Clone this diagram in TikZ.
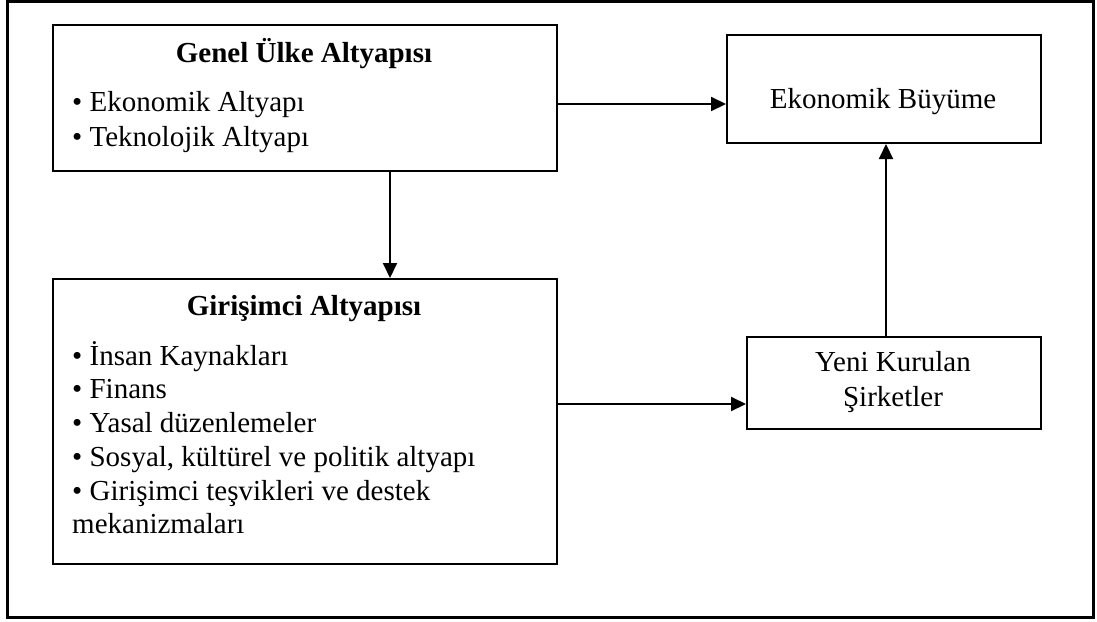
\documentclass[tikz,border=0pt]{standalone}
\usepackage{fontspec}
\setmainfont{Liberation Serif}
\usetikzlibrary{arrows.meta}
\tikzset{
  box/.style={draw=black, line width=2pt, rectangle, inner sep=0pt, anchor=north west},
  frame/.style={draw=black, line width=2.4pt},
  arr/.style={draw=black, line width=2pt, -{Triangle[length=15pt,width=14pt]}},
  txt/.style={inner sep=0pt, anchor=base west, font=\fontsize{29}{34}\selectfont},
  ctxt/.style={inner sep=0pt, anchor=base, font=\fontsize{29}{34}\selectfont},
  btxt/.style={inner sep=0pt, anchor=base, font=\fontsize{29}{34}\selectfont\bfseries},
}
\begin{document}
\begin{tikzpicture}[x=1pt,y=-1pt]
\useasboundingbox (0,0) rectangle (1097,621);
\draw[frame] (7.5,1.5) rectangle (1093.5,617.5);

% boxes
\node[box, minimum width=504pt, minimum height=146pt] (genel) at (52,24) {};
\node[box, minimum width=504pt, minimum height=285pt] (gir) at (52,278) {};
\node[box, minimum width=314pt, minimum height=108pt] (eko) at (726,34) {};
\node[box, minimum width=294pt, minimum height=92pt] (yeni) at (746,336) {};

% texts
\node[btxt] (genelT) at (304,62) {Genel Ülke Altyapısı};
\node[txt] (g1) at (72,111.5) {• Ekonomik Altyapı};
\node[txt] (g2) at (72,146) {• Teknolojik Altyapı};

\node[btxt] (girT) at (304,315) {Girişimci Altyapısı};
\node[txt] (r1) at (72,365) {• İnsan Kaynakları};
\node[txt] (r2) at (72,398.5) {• Finans};
\node[txt] (r3) at (72,432.3) {• Yasal düzenlemeler};
\node[txt] (r4) at (72,466.3) {• Sosyal, kültürel ve politik altyapı};
\node[txt] (r5) at (72,500) {• Girişimci teşvikleri ve destek};
\node[txt] (r6) at (72,533.5) {mekanizmaları};

\node[ctxt] (ekoT) at (883,108.3) {Ekonomik Büyüme};
\node[ctxt] (yeni1) at (893,371.7) {Yeni Kurulan};
\node[ctxt] (yeni2) at (893,406.7) {Şirketler};

% connectors
\draw[arr] (genel.east |- 0,104) -- (eko.west |- 0,104);
\draw[arr] (genel.south -| 390,0) -- (gir.north -| 390,0);
\draw[arr] (gir.east |- 0,404) -- (yeni.west |- 0,404);
\draw[arr] (yeni.north -| 886,0) -- (eko.south -| 886,0);
\end{tikzpicture}
\end{document}
